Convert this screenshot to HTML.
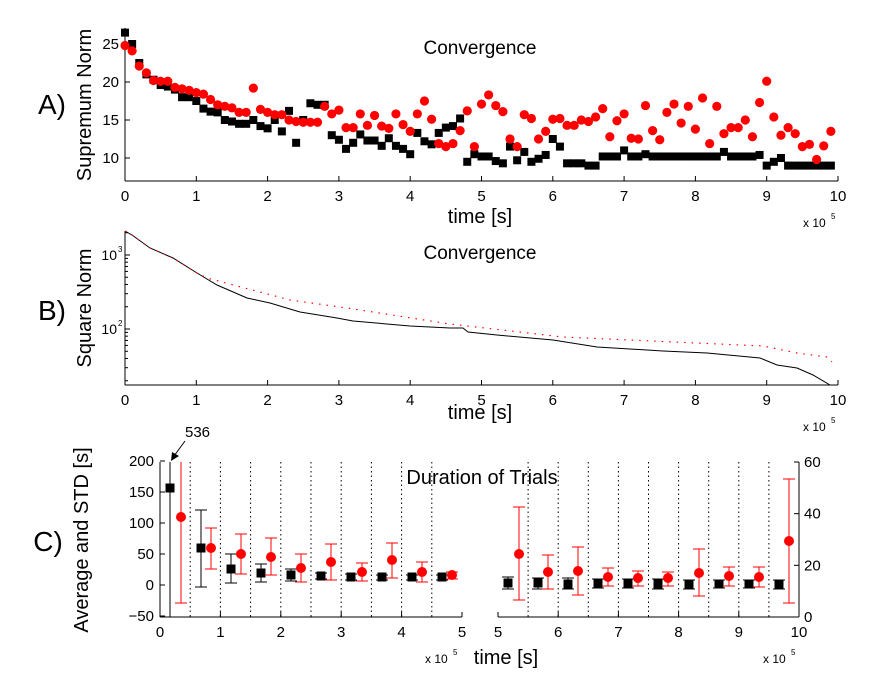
<!DOCTYPE html>
<html><head><meta charset="utf-8"><style>
html,body{margin:0;padding:0;background:#fff;width:879px;height:696px;overflow:hidden}
svg{display:block;font-family:"Liberation Sans",Arial,sans-serif}
</style></head><body>
<svg id="s" width="879" height="696" viewBox="0 0 879 696" xmlns="http://www.w3.org/2000/svg">
<g font-size="14" fill="#000">
<text x="480" y="54" font-size="19" text-anchor="middle">Convergence</text>
<text x="52" y="114" font-size="28" text-anchor="middle">A)</text>
<text transform="translate(91,105) rotate(-90)" font-size="20" text-anchor="middle">Supremum Norm</text>
<text x="480" y="223" font-size="20" text-anchor="middle">time [s]</text>
<text x="803" y="227" font-size="12">x 10</text><text x="831" y="219" font-size="8">5</text>
<text x="480" y="259" font-size="19" text-anchor="middle">Convergence</text>
<text x="52" y="320" font-size="28" text-anchor="middle">B)</text>
<text transform="translate(91,308) rotate(-90)" font-size="20" text-anchor="middle">Square Norm</text>
<text x="480" y="419" font-size="20" text-anchor="middle">time [s]</text>
<text x="803" y="431" font-size="12">x 10</text><text x="831" y="423" font-size="8">5</text>
<text x="117" y="260" font-size="14" text-anchor="end">10</text><text x="118" y="252" font-size="8">3</text>
<text x="117" y="334" font-size="14" text-anchor="end">10</text><text x="118" y="326" font-size="8">2</text>
<text x="482" y="484" font-size="20" text-anchor="middle">Duration of Trials</text>
<text x="48" y="551" font-size="28" text-anchor="middle">C)</text>
<text transform="translate(88,540) rotate(-90)" font-size="20" text-anchor="middle">Average and STD [s]</text>
<text x="506" y="664" font-size="20" text-anchor="middle">time [s]</text>
<text x="425" y="663" font-size="12">x 10</text><text x="453" y="655" font-size="8">5</text>
<text x="763" y="663" font-size="12">x 10</text><text x="791" y="655" font-size="8">5</text>
<text x="185" y="437" font-size="15">536</text>
</g>
<g id="g" font-size="15"></g>
</svg>
<script>
var NS="http://www.w3.org/2000/svg",G=document.getElementById('g');
function el(t,a){var e=document.createElementNS(NS,t);for(var k in a)e.setAttribute(k,a[k]);G.appendChild(e);return e;}
function ln(x1,y1,x2,y2,c,w,d){var a={x1:x1,y1:y1,x2:x2,y2:y2,stroke:c||'#000','stroke-width':w||1};if(d)a['stroke-dasharray']=d;el('line',a);}
function tx(x,y,s,anc){var e=el('text',{x:x,y:y,'text-anchor':anc||'middle'});e.textContent=s;}
function X(t){return 125+71.3*t;}
ln(125,28,125,181);ln(125,181,838,181);
for(var i=0;i<=10;i++){ln(X(i),181,X(i),176);tx(X(i),201,''+i);}
[10,15,20,25].forEach(function(v){var y=158-(v-10)*7.6;ln(125,y,130,y);tx(119,y+5,''+v,'end');});
function YA(v){return 158-(v-10)*7.6;}
var bk=[26.5,25,22.5,21,20.3,19.6,19.4,19,18,18,17.5,16.5,16.1,16,15,14.8,14.5,14.5,15,14.2,13.9,15,13.5,16.2,12,15,17.2,17,17,13,12.4,11.2,12,13.1,12.3,12.3,11.6,12.6,11.6,11.2,10.5,13.3,12.2,11.8,13.3,14,14.2,15.2,9.5,10.5,10.2,10.2,9.6,9.3,11.5,9.7,10.8,9.5,9.9,10.4,12.5,11.5,9.3,9.3,9.3,9,9,10.2,10.2,10.2,11,10.2,10.2,10.5,10.2,10.2,10.2,10.2,10.2,10.2,10.2,10.2,10.2,10.2,10.8,10.2,10.2,10.2,10.2,10.4,9,9.5,10,9,9,9,9,9,9,9];
var rd=[24.8,24.1,22.1,21.2,20.2,20.1,20.1,19.3,19.1,18.9,18.6,18.4,17.7,17,16.8,16.6,16,16,19.2,16.4,16,15.7,15.7,15,14.8,14.7,14.7,14.7,16.8,15.8,16.3,14,14,15.8,14.3,15.6,14.2,13.9,15.8,14.4,13.5,15.8,17.5,15.1,11.9,11.5,11.9,13.6,16.2,11.5,17.1,18.3,16.9,16.1,12.5,11.5,15.7,15.2,12.5,13.5,15.1,15.2,14.3,14.3,15,14.8,15.4,16.5,12.8,14.9,15.8,12.6,12.5,16.9,13.6,12.4,16,17.1,14.6,16.8,13.8,17.9,11.9,16.8,13.2,14,14,15,12.8,17.3,20.1,15.4,13,14,13.2,11.5,11.8,9.8,11.6,13.5];
bk.forEach(function(v,i){var x=X(i*0.1),y=YA(v);el('rect',{x:x-4,y:y-4,width:8,height:8,fill:'#000'});});
rd.forEach(function(v,i){el('circle',{cx:X(i*0.1),cy:YA(v),r:4.6,fill:'#f00'});});
ln(125,231,125,385);ln(125,385,838,385);
for(var i=0;i<=10;i++){ln(X(i),385,X(i),380);tx(X(i),405,''+i);}
function YB(v){return 329-74*Math.log10(v/100);}
[20,30,40,50,60,70,80,90,200,300,400,500,600,700,800,900,2000].forEach(function(v){ln(125,YB(v),128,YB(v));});
ln(125,YB(100),130,YB(100));ln(125,YB(1000),130,YB(1000));
var bl=[[125,231],[132,235],[150,248],[173,258],[197,273],[217,285],[247,298],[270,303],[300,312],[337,318],[353,321],[410,326],[450,328],[463,328],[468,332],[497,335],[553,340],[597,347],[663,351],[707,353],[760,358],[777,365],[797,368],[813,375],[830,385]];
el('polyline',{points:bl.join(' '),fill:'none',stroke:'#000','stroke-width':1});
var rl=[[125,231],[132,235],[150,248],[173,258],[197,273],[207,278],[290,300],[347,308],[450,324],[563,337],[763,346],[797,353],[827,357],[832,362]];
el('polyline',{points:rl.join(' '),fill:'none',stroke:'#f00','stroke-width':1.2,'stroke-dasharray':'1.5 6'});
var L0=160,LS=60.4,R0=498,RS=60.2;
function YC(v){return 585-v*0.62;}
ln(160,462,160,617);ln(160,617,462,617);
ln(498,617,799,617);ln(799,462,799,617);
for(var i=0;i<=5;i++){var x=L0+LS*i;ln(x,617,x,612);tx(x,637,''+i);}
for(var i=5;i<=10;i++){var x=R0+RS*(i-5);ln(x,617,x,612);tx(x,637,''+i);}
[-50,0,50,100,150,200].forEach(function(v){ln(160,YC(v),165,YC(v));tx(154,YC(v)+5,(v<0?'\u221250':''+v),'end');});
[0,20,40,60].forEach(function(v){var y=617-v*155/60;ln(799,y,794,y);tx(804,y+5,''+v,'start');});
for(var i=0;i<9;i++){var x=L0+LS*(0.5+0.5*i);ln(x,462,x,617,'#000',1,'1.5 3');}
for(var i=0;i<9;i++){var x=R0+RS*(0.5+0.5*i);ln(x,462,x,617,'#000',1,'1.5 3');}
function eb(x,t,b,c){ln(x,t,x,b,c);ln(x-6,t,x+6,t,c);ln(x-6,b,x+6,b,c);}
var C=[
[170,488,462,617,181,517,462,603],
[201,548,510,587,211,548,528,569],
[231,569,554,583,241,554,534,574],
[261,573,564,582,271,557,538,575],
[291,575,569,581,301,568,554,582],
[321,576,573,579,331,562,544,580],
[351,577,574,580,362,572,563,581],
[382,577,575,580,392,560,543,578],
[412,577,575,580,422,572,562,582],
[442,577,575,580,452,575,572,579],
[508,583,577,589,519,554,507,600],
[538,583,578,589,548,572,555,589],
[568,584,578,589,578,571,547,595],
[598,583,579,588,608,577,568,586],
[628,583,579,588,638,578,571,586],
[658,584,579,589,668,578,572,586],
[689,585,580,589,699,573,549,596],
[719,584,580,588,729,576,567,586],
[749,584,580,588,759,577,567,587],
[779,585,580,589,789,541,479,603]];
C.forEach(function(d){
 if(d[0]==170){ln(d[0],d[2],d[0],d[3]);}else eb(d[0],d[2],d[3],'#000');
 el('rect',{x:d[0]-4.5,y:d[1]-4.5,width:9,height:9,fill:'#000'});
 if(d[4]==181){ln(d[4],d[6],d[4],d[7],'#f00');ln(d[4]-6,d[7],d[4]+6,d[7],'#f00');}else eb(d[4],d[6],d[7],'#f00');
 el('circle',{cx:d[4],cy:d[5],r:5,fill:'#f00'});
});
ln(185,441,174,456);
el('polygon',{points:'171,461 172,452 179,456',fill:'#000'});
</script>
</body></html>
